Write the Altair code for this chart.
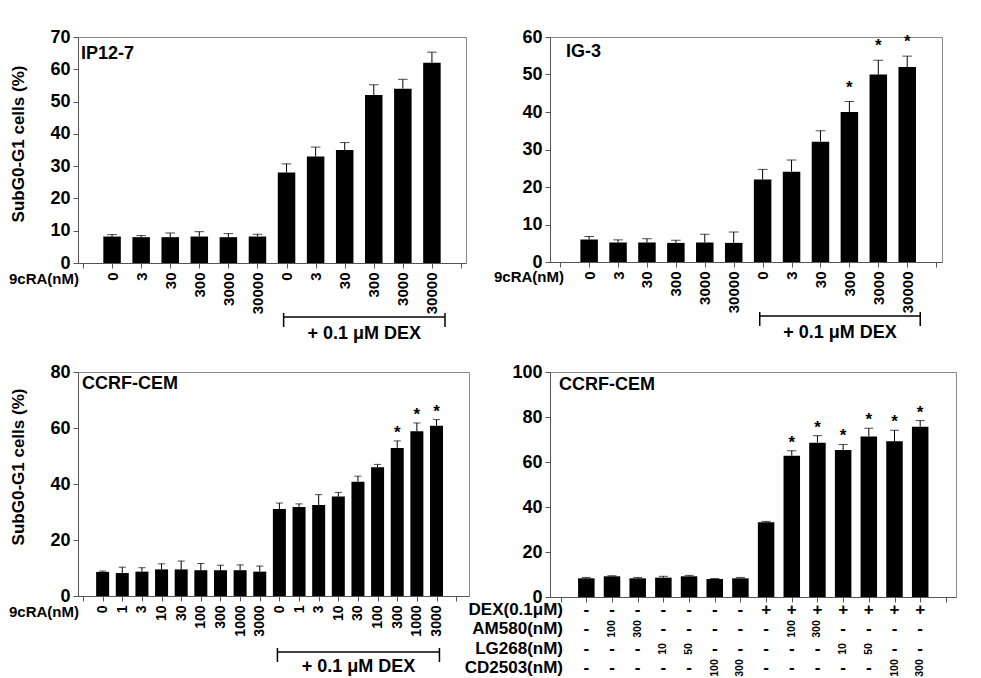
import json
import altair as alt
import pandas as pd

FONT = "Liberation Sans"

# ---------------- data ----------------
# Panel A: IP12-7
a_labels = ["0", "3", "30", "300", "3000", "30000"] * 2
a_vals = [8.2, 8.0, 8.0, 8.2, 8.0, 8.2, 28.0, 33.0, 35.0, 52.0, 54.0, 62.0]
a_err = [0.6, 0.5, 1.3, 1.5, 1.1, 0.7, 2.7, 2.9, 2.3, 3.2, 2.9, 3.3]
a_star = [False] * 12
a_dex = [False] * 6 + [True] * 6

# Panel B: IG-3
b_labels = ["0", "3", "30", "300", "3000", "30000"] * 2
b_vals = [6.0, 5.2, 5.2, 5.1, 5.2, 5.1, 22.0, 24.1, 32.1, 40.0, 50.0, 52.0]
b_err = [0.8, 0.7, 1.0, 0.7, 2.2, 2.9, 2.7, 3.1, 2.9, 2.8, 3.8, 2.9]
b_star = [False] * 9 + [True] * 3
b_dex = [False] * 6 + [True] * 6

# Panel C: CCRF-CEM (9cRA)
c_labels = ["0", "1", "3", "10", "30", "100", "300", "1000", "3000"] * 2
c_vals = [8.6, 8.2, 8.7, 9.5, 9.5, 9.2, 9.2, 9.2, 8.7,
          31.1, 31.8, 32.5, 35.5, 40.8, 46.0, 52.9, 58.8, 60.8]
c_err = [0.3, 2.1, 1.4, 2.0, 3.0, 2.4, 1.8, 1.9, 2.0,
         2.1, 1.1, 3.7, 1.5, 2.0, 1.0, 2.5, 3.0, 2.2]
c_star = [False] * 15 + [True] * 3
c_dex = [False] * 9 + [True] * 9

# Panel D: CCRF-CEM (retinoids)
d_vals = [8.3, 9.2, 8.3, 8.6, 9.2, 8.0, 8.3, 33.2, 62.8, 68.6, 65.3, 71.3, 69.2, 75.7]
d_err = [0.4, 0.3, 0.4, 0.6, 0.4, 0.2, 0.4, 0.4, 2.2, 3.1, 2.5, 3.7, 4.9, 2.7]
d_star = [False] * 8 + [True] * 6
d_row_names = ["DEX(0.1μM)", "AM580(nM)", "LG268(nM)", "CD2503(nM)"]
d_dex = ["-"] * 7 + ["+"] * 7
d_am580 = ["-", "100", "300", "-", "-", "-", "-", "-", "100", "300", "-", "-", "-", "-"]
d_lg268 = ["-", "-", "-", "10", "50", "-", "-", "-", "-", "-", "10", "50", "-", "-"]
d_cd2503 = ["-", "-", "-", "-", "-", "100", "300", "-", "-", "-", "-", "-", "100", "300"]

Y_TITLE = "SubG0-G1 cells (%)"


def text_at(text, x, y, size=16, align="right", angle=0):
    kw = dict(font=FONT, fontSize=size, fontWeight="bold", align=align,
              baseline="middle", color="black")
    if angle:
        kw["angle"] = angle
    return alt.Chart(pd.DataFrame({"t": [text]})).mark_text(**kw).encode(
        x=alt.value(x), y=alt.value(y), text="t:N")


def base_layers(title, vals, errs, stars, ymax, ystep, bar_w, xdom,
                xlabels=None, label_size=15, title_dx=4, title_dy=17, star_dy=-3):
    n = len(vals)
    df = pd.DataFrame({
        "pos": list(range(1, n + 1)),
        "value": vals,
        "err": errs,
        "star": ["*" if s else "" for s in stars],
    })
    df["top"] = df["value"] + df["err"]

    xvalues = list(range(0, n + 2))
    if xlabels is not None:
        arr = json.dumps([""] + list(xlabels) + [""])
        xaxis = alt.Axis(values=xvalues, tickCount=len(xvalues), labelExpr=f"{arr}[datum.value]",
                         labelAngle=270, labelAlign="right", labelBaseline="middle",
                         labelFontSize=label_size, labelFontWeight="bold",
                         labelPadding=4, labelOverlap=False, labelFlush=False,
                         labelBound=False, tickSize=5, grid=False, title=None)
    else:
        xaxis = alt.Axis(values=xvalues, tickCount=len(xvalues), labels=False, tickSize=5,
                         grid=False, title=None)

    yvalues = list(range(0, ymax + 1, ystep))
    yaxis = alt.Axis(values=yvalues, tickCount=len(yvalues), grid=False, tickSize=5,
                     labelFontSize=18, labelFontWeight="bold", labelPadding=3,
                     labelOverlap=False, title=None)

    x = alt.X("pos:Q", scale=alt.Scale(domain=xdom, nice=False, zero=False), axis=xaxis)
    y = alt.Y("value:Q", scale=alt.Scale(domain=[0, ymax], nice=False), axis=yaxis)

    base = alt.Chart(df)
    bars = base.mark_bar(color="black", size=bar_w).encode(x=x, y=y)
    err_line = base.mark_rule(color="black", strokeWidth=1).encode(x="pos:Q", y="value:Q", y2="top:Q")
    err_cap = base.mark_tick(color="black", orient="horizontal", size=bar_w * 0.55,
                             thickness=1).encode(x="pos:Q", y="top:Q")
    star = base.mark_text(font=FONT, fontSize=17, fontWeight="bold", baseline="alphabetic",
                          dy=star_dy, color="black").encode(x="pos:Q", y="top:Q", text="star:N")
    ttl = text_at(title, title_dx, title_dy, size=18, align="left")
    return [bars, err_line, err_cap, star, ttl]


def dex_bracket(dex, height, bracket_dy=54, text_dy=71, end_pad=0.45):
    idx = [i + 1 for i, d in enumerate(dex) if d]
    bdf = pd.DataFrame({"start": [idx[0] - 0.1], "end": [idx[-1] + end_pad],
                        "label": ["+ 0.1 μM DEX"]})
    bdf["mid"] = (bdf["start"] + bdf["end"]) / 2
    b = alt.Chart(bdf)
    line = b.mark_rule(color="black", strokeWidth=1.5).encode(
        x="start:Q", x2="end:Q", y=alt.value(height + bracket_dy))
    capl = b.mark_rule(color="black", strokeWidth=1.5).encode(
        x="start:Q", y=alt.value(height + bracket_dy - 4), y2=alt.value(height + bracket_dy + 10))
    capr = b.mark_rule(color="black", strokeWidth=1.5).encode(
        x="end:Q", y=alt.value(height + bracket_dy - 4), y2=alt.value(height + bracket_dy + 10))
    txt = b.mark_text(font=FONT, fontSize=18, fontWeight="bold", baseline="middle",
                      color="black").encode(x="mid:Q", y=alt.value(height + text_dy), text="label:N")
    return [line, capl, capr, txt]


# ---------------- panels ----------------
W1, H1 = 388, 226
l1 = base_layers("IP12-7", a_vals, a_err, a_star, 70, 10, 17.5, [0, 13],
                 xlabels=a_labels, title_dx=3, title_dy=17)
p1 = alt.layer(*l1, *dex_bracket(a_dex, H1),
               text_at("9cRA(nM)", 1, H1 + 16, size=15, align="right"),
               text_at(Y_TITLE, -59, 107, size=17, align="center", angle=270)
               ).properties(width=W1, height=H1)

W2, H2 = 392, 225
l2 = base_layers("IG-3", b_vals, b_err, b_star, 60, 10, 17.5, [-0.18, 13.03],
                 xlabels=b_labels, title_dx=16, title_dy=15, star_dy=-9)
p2 = alt.layer(*l2, *dex_bracket(b_dex, H2),
               text_at("9cRA(nM)", 14, H2 + 15, size=15, align="right")).properties(width=W2, height=H2)

W3, H3 = 391, 224
l3 = base_layers("CCRF-CEM", c_vals, c_err, c_star, 80, 20, 13, [0, 19.4],
                 xlabels=c_labels, label_size=14, title_dx=4, title_dy=12)
p3 = alt.layer(*l3, *dex_bracket(c_dex, H3, bracket_dy=56, end_pad=0.15),
               text_at("9cRA(nM)", 1, H3 + 16, size=15, align="right"),
               text_at(Y_TITLE, -59, 95, size=17, align="center", angle=270)
               ).properties(width=W3, height=H3)

W4, H4 = 406, 225
l4 = base_layers("CCRF-CEM", d_vals, d_err, d_star, 100, 20, 16.5, [-0.22, 15.2],
                 title_dx=9, title_dy=13)

table_rows = [d_dex, d_am580, d_lg268, d_cd2503]
row_dy = [13, 32, 52, 71]
table_layers = []
for name, vals_r, dy in zip(d_row_names, table_rows, row_dy):
    tdf = pd.DataFrame({"pos": list(range(1, len(vals_r) + 1)), "t": vals_r})
    tdf["is_sign"] = tdf["t"].isin(["-", "+"])
    signs = alt.Chart(tdf).transform_filter("datum.is_sign").mark_text(
        font=FONT, fontSize=17, fontWeight="bold", baseline="middle", color="black"
    ).encode(x="pos:Q", y=alt.value(H4 + dy), text="t:N")
    nums = alt.Chart(tdf).transform_filter("!datum.is_sign").mark_text(
        font=FONT, fontSize=10.5, fontWeight="bold", baseline="middle", align="center",
        angle=270, color="black"
    ).encode(x="pos:Q", y=alt.value(H4 + dy), text="t:N")
    table_layers += [signs, nums, text_at(name, 13, H4 + dy, size=17)]

p4 = alt.layer(*l4, *table_layers).properties(width=W4, height=H4)

chart = alt.concat(
    p1, p2, p3, p4, columns=2, bounds="flush", align="each",
    spacing={"row": 109, "column": 81}
).properties(
    padding={"left": 0, "top": 19, "right": 0, "bottom": 0}
).configure_view(
    stroke="#8a8a8a", strokeWidth=1
).configure_axis(
    labelFont=FONT, titleFont=FONT, labelColor="black", titleColor="black",
    domainColor="#555555", tickColor="#555555"
)

chart.save("out.html", embed_options={"renderer": "svg", "actions": False})
